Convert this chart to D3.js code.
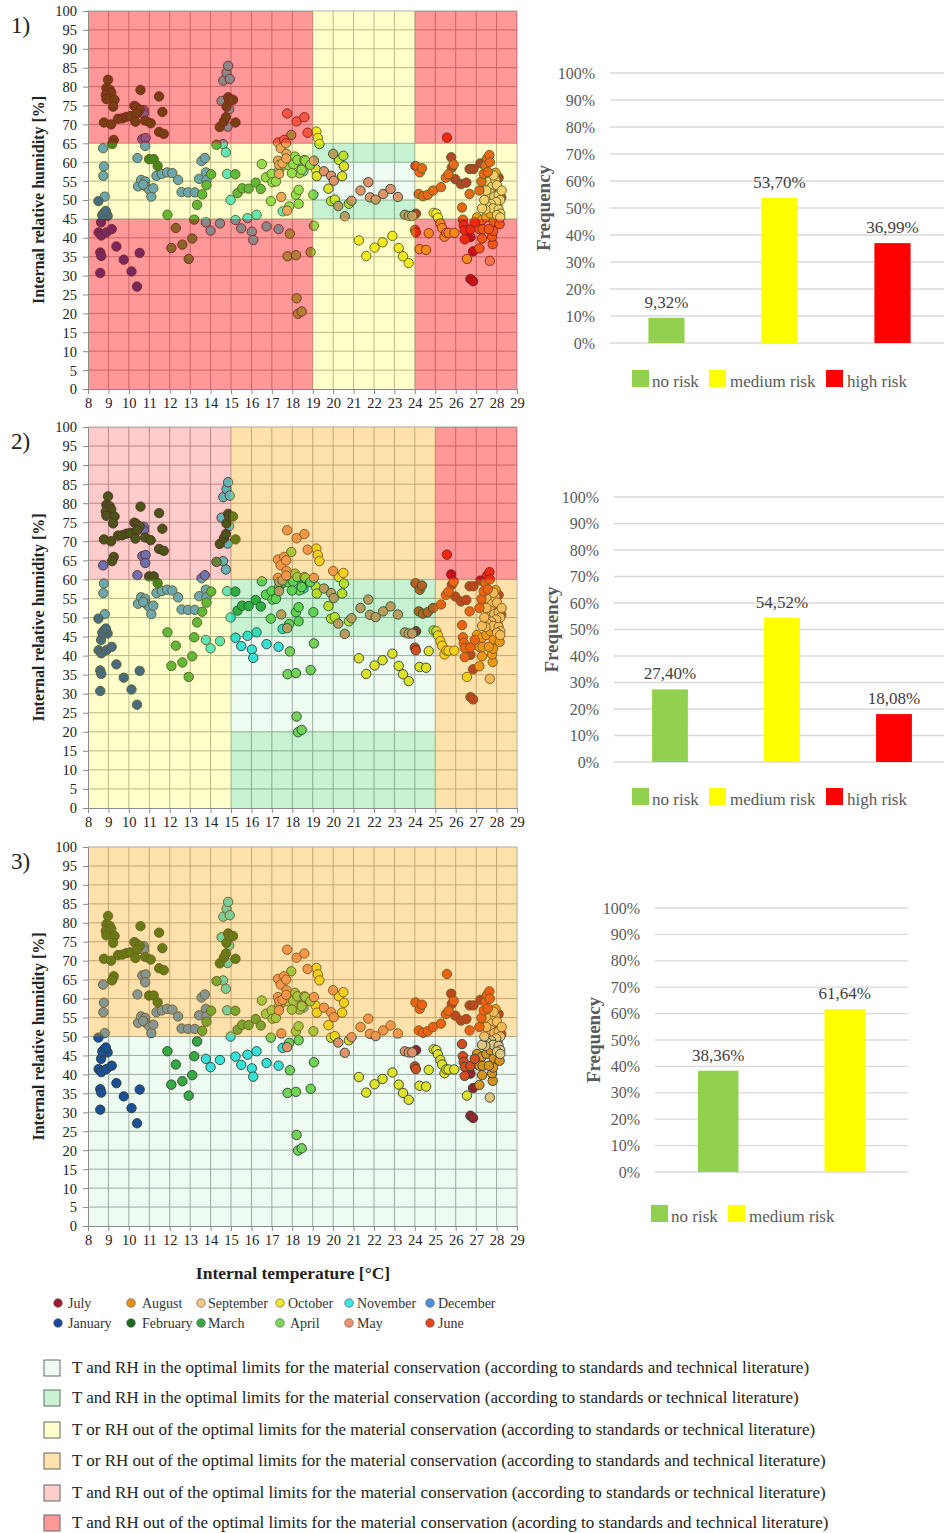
<!DOCTYPE html>
<html>
<head>
<meta charset="utf-8">
<script src="https://cdn.jsdelivr.net/npm/d3@7"></script>
<style>
  body { margin: 0; background: #fff; }
  svg { display: block; }
</style>
</head>
<body>
<svg id="chart" width="944" height="1533"></svg>
<script>
// ---- Monthly T / RH readings: [temperature °C, relative humidity %] ----
const julyPts = [[26.72,29.1],[26.85,28.5],[26.85,36.4],[26.72,40.2],[25.78,61.3],[25.81,58.6],[25.98,55.5],[26.26,54.2],[26.52,54.6],[26.68,58.2],[26.87,58.2],[27.21,59.7],[28.1,55.9],[28.02,52.8],[28.23,50.7],[24.06,46.4]];
const augustPts = [[27.16,37.2],[27.29,39.8],[27.16,42.3],[27.32,42.3],[27.04,45.4],[27.29,44.7],[27.5,45.4],[27.81,38.3],[27.78,40.3],[27.83,41.8],[27.86,44.3],[28.15,43.6],[27.62,42.3],[27.7,46.4],[28.05,48.2],[27.55,53.5],[27.95,57.2]];
const septemberPts = [[27.62,54.8],[27.78,53.5],[27.94,55.3],[28.02,53.9],[27.7,51.8],[27.89,50.9],[28.1,51.3],[28.18,50],[27.98,49.5],[27.73,48.9],[27.54,48.4],[27.83,47.8],[28.1,47.5],[28.18,46.4],[28.02,46],[27.45,47.5],[27.29,47.8],[27.4,50],[28.18,45.4],[27.67,33.9],[27.5,52.5],[28.25,52.5],[27.85,56.5]];
const octoberPts = [[19.18,68.1],[19.25,66.4],[19.33,64.8],[19.15,58.1],[19.2,56.3],[20.28,60.6],[20.5,61.7],[20.53,58.9],[20.44,56.3],[19.77,53],[19.9,49.7],[20.08,50.1],[20.77,49],[21.26,39.3],[21.62,35.2],[22.03,37.4],[22.42,38.8],[22.9,40.5],[23.21,37.3],[23.42,35.1],[23.7,33.3],[24.23,37],[24.55,36.8],[24.68,41.2],[24.92,46.6],[25.05,46.4],[25.13,45.3],[25.25,43.8],[25.33,42.6],[25.45,40.3],[25.54,41.3],[25.65,41.3],[25.93,41.3],[26.55,34.4]];
const novemberPts = [[13.77,44.1],[14,41.9],[14.46,43.8],[14.98,50],[15.22,44.7],[15.5,42.5],[15.81,45.2],[16.02,41.6],[16.09,39.4],[16.25,46.1],[16.74,43],[17.33,42.3],[17.53,47],[14.61,64.8],[14.75,62.6],[14.81,56.9],[14.54,76.2],[14.62,81.6],[14.78,83.7],[14.86,85.5],[14.94,82],[14.91,74],[14.83,69.4],[18.5,58.4],[18.55,57.6]];
const decemberPts = [[8.74,63.7],[8.78,58.9],[8.75,56.4],[8.82,50.9],[10.73,73.8],[10.73,72.8],[10.66,66.1],[10.82,66.4],[10.8,64.3],[10.42,61.1],[10.45,53.6],[10.6,55.3],[10.8,54.9],[10.84,53.6],[11.0,52.7],[11.1,50.9],[11.2,53.1],[10.7,54.1],[11.35,56.4],[11.61,56.9],[11.87,57.3],[12.13,57.1],[12.41,55.3],[12.58,52.1],[12.9,52],[13.23,52],[13.44,55.6],[13.56,60.3],[13.72,61.1],[13.77,57.3],[13.8,55.3]];
const januaryPts = [[8.51,49.7],[8.52,41.4],[8.64,44.1],[8.65,40.6],[8.6,36.1],[8.65,35.2],[8.6,30.7],[8.9,41.4],[9.16,42.3],[9.39,37.7],[9.75,34.2],[10.13,31.1],[10.4,27.1],[10.53,36],[8.77,46.5],[8.9,46.3],[8.96,45.8],[8.7,46],[8.87,47.1]];
const februaryPts = [[8.98,81.8],[8.9,79.6],[9.06,79.2],[9.14,78.4],[8.87,77.8],[8.9,76.7],[9.3,76.5],[9.23,74.7],[8.78,70.5],[9.13,70],[9.26,65.9],[9.18,64.8],[9.47,71.5],[9.68,71.6],[9.88,72],[10.07,72.2],[10.27,74.9],[10.37,74.5],[10.53,73.9],[10.4,72.9],[10.32,70.7],[10.57,79.1],[10.8,71],[11.07,70.3],[11.48,77.4],[11.64,73.3],[11.48,68],[11.71,67.5],[10.99,60.8],[11.22,60.8],[11.41,59],[14.45,69.3],[14.65,70.8],[14.75,71.9],[14.78,74.7],[14.86,77.2],[14.91,76.5],[15.1,76.5],[15.22,70.5]];
const marchPts = [[14.29,64.6],[11.89,46.1],[12.08,37.3],[12.3,42.6],[12.62,38.2],[12.93,34.4],[13.1,39.8],[13.2,44.8],[13.34,48.7],[13.59,51.5],[13.8,53.9],[14.03,56.8],[15.21,56.8],[15.32,51.8],[15.55,53.1],[15.86,53],[16.21,54.6],[16.46,52.9]];
const aprilPts = [[16.51,59.5],[16.71,56],[16.99,56.9],[17.03,54.7],[17.2,54.9],[16.95,49.7],[17.36,58],[17.57,59.2],[17.82,59.2],[18.05,59.4],[18.13,61.5],[18.25,60.6],[18.35,57.1],[18.46,58],[18.59,60.6],[18.83,59.7],[17.98,57.1],[18.18,51.4],[18.31,52.7],[18.31,49],[17.85,48.3],[17.88,41.1],[17.77,35.1],[18.18,35.4],[18.9,36.2],[18.21,24],[18.28,19.9],[18.46,20.5],[19.03,51.4],[19.06,43.2],[18.64,60.4],[18.88,59.3],[17.95,67.2]];
const mayPts = [[17.3,65.2],[17.43,63.7],[17.6,65.9],[17.7,65],[17.72,62.2],[17.3,60.4],[17.36,59.3],[17.52,59.7],[17.7,61],[17.35,56.9],[17.46,50.8],[17.75,47.2],[17.75,72.9],[18.21,70.8],[18.59,71.9],[18.75,67.8],[19.06,60.4],[19.55,57.6],[20,62.2],[19.9,56.4],[20.03,55.1],[20.25,48.4],[20.57,45.7],[20.9,49.8],[21.34,52.5],[21.72,54.7],[21.8,50.7],[22.08,50.1],[22.45,51.6],[22.81,52.9],[23.17,50.8],[23.51,46.1],[23.7,45.8],[23.87,45.8]];
const junePts = [[24.0,42.1],[24.05,41.4],[24.03,59],[24.24,57.3],[24.35,58.4],[24.19,51.6],[24.4,51],[24.63,51.4],[24.89,52.5],[25.28,53.4],[25.52,55.9],[25.57,66.5],[25.65,56.8],[25.9,59.4],[26.68,51.6],[26.35,44.8],[26.39,43.3],[26.44,42],[26.72,42.2],[26.93,44.1],[26.44,39.6],[27.16,52.5],[27.26,54.9],[27.37,56.9],[27.45,59.1],[27.54,61],[27.65,61.9],[27.67,60],[27.57,57.4],[26.31,48]];

// Legend order of the months and their marker colours
const months = ["July","August","September","October","November","December","January","February","March","April","May","June"];
const monthColors = ["#9e1a2e","#e8901e","#f2c585","#efe52a","#3de3e3","#4a90dc","#1c47a0","#1d6b1f","#3aa843","#7ad65a","#f0906c","#e4441c"];
const monthPoints = [julyPts, augustPts, septemberPts, octoberPts, novemberPts, decemberPts, januaryPts, februaryPts, marchPts, aprilPts, mayPts, junePts];

// Axis ticks
const tempTicks = d3.range(8, 30);
const rhTicks = d3.range(0, 101, 5);
const pctTicks = d3.range(0, 101, 10);

// Conservation zones: [T from, T to, RH from, RH to, class]
// class 0 optimal (standards and literature) ... 5 out of limits (standards and literature)
const zoneBase = ["rgb(0,200,50)","rgb(0,200,50)","rgb(255,255,0)","rgb(255,165,0)","rgb(255,0,0)","rgb(255,0,0)"];
const zoneAlpha = [0.07, 0.22, 0.2, 0.33, 0.2, 0.4];
const zonesStandard1 = [[8,19,0,45,5],[8,19,65,100,5],[8,19,45,65,2],[19,24,0,45,2],[19,24,65,100,2],[19,24,45,50,1],[19,24,60,65,1],[19,24,50,60,0],[24,29,0,45,5],[24,29,65,100,5],[24,29,45,65,2]];
const zonesStandard2 = [[8,15,60,100,4],[8,15,0,60,2],[15,25,60,100,3],[15,25,45,60,1],[15,25,20,45,0],[15,25,0,20,1],[25,29,60,100,5],[25,29,0,60,3]];
const zonesStandard3 = [[8,29,50,100,3],[8,29,0,50,0]];

const zoneLegendTexts = [
  "T and RH in the optimal limits for the material conservation (according to standards and technical literature)",
  "T and RH in the optimal limits for the material conservation (according to standards or technical literature)",
  "T or RH out of the optimal limits for the material conservation (according to standards or technical literature)",
  "T or RH out of the optimal limits for the material conservation (according to standards and technical literature)",
  "T and RH out of the optimal limits for the material conservation (according to standards or technical literature)",
  "T and RH out of the optimal limits for the material conservation (acording to standards and technical literature)"
];

// Risk frequencies (%)
const riskLabels = ["no risk","medium risk","high risk"];
const riskColors = ["#92d050","#ffff00","#ff0000"];
const risk1 = [9.32, 53.70, 36.99];
const risk2 = [27.40, 54.52, 18.08];
const risk3 = [38.36, 61.64];

const SERIF = "'Liberation Serif', 'Times New Roman', serif";
const svg = d3.select("#chart");

function scatterPanel(top, bottom, zones, tag) {
  const x = d3.scaleLinear().domain([8, 29]).range([88, 517]);
  const y = d3.scaleLinear().domain([0, 100]).range([bottom, top]);
  const g = svg.append("g");

  g.append("rect").attr("x", x(8)).attr("y", y(100))
    .attr("width", x(29) - x(8)).attr("height", y(0) - y(100)).attr("fill", "#fff");

  // grid
  g.append("g").selectAll("line").data(tempTicks.slice(1)).join("line")
    .attr("x1", d => x(d)).attr("x2", d => x(d)).attr("y1", y(0)).attr("y2", y(100))
    .attr("stroke", "#a8a8a8").attr("stroke-width", 1);
  g.append("g").selectAll("line").data(rhTicks.slice(1)).join("line")
    .attr("x1", x(8)).attr("x2", x(29)).attr("y1", d => y(d)).attr("y2", d => y(d))
    .attr("stroke", "#a8a8a8").attr("stroke-width", 1);

  // readings
  monthPoints.forEach((pts, m) => {
    g.append("g").selectAll("circle").data(pts).join("circle")
      .attr("cx", d => x(d[0])).attr("cy", d => y(d[1])).attr("r", 4.7)
      .attr("fill", monthColors[m]).attr("stroke", "#333").attr("stroke-width", 0.9);
  });

  // translucent conservation zones laid over the readings
  g.append("g").selectAll("rect").data(zones).join("rect")
    .attr("x", d => x(d[0])).attr("width", d => x(d[1]) - x(d[0]))
    .attr("y", d => y(d[3])).attr("height", d => y(d[2]) - y(d[3]))
    .attr("fill", d => zoneBase[d[4]]).attr("fill-opacity", d => zoneAlpha[d[4]]);

  // axes
  const ax = g.append("g").attr("transform", `translate(0,${y(0)})`)
    .call(d3.axisBottom(x).tickValues(tempTicks).tickSize(5).tickPadding(4).tickFormat(d3.format("d")));
  const ay = g.append("g").attr("transform", `translate(${x(8)},0)`)
    .call(d3.axisLeft(y).tickValues(rhTicks).tickSize(5).tickPadding(6).tickFormat(d3.format("d")));
  [ax, ay].forEach(a => {
    a.select(".domain").attr("stroke", "#8c8c8c");
    a.selectAll(".tick line").attr("stroke", "#8c8c8c");
    a.selectAll("text").attr("font-family", SERIF).attr("font-size", 14.5).attr("fill", "#222");
  });
  ay.selectAll("text").attr("dy", "0.34em");

  g.append("text").attr("transform", `translate(44,${(top + bottom) / 2}) rotate(-90)`)
    .attr("text-anchor", "middle").attr("font-family", SERIF).attr("font-weight", "bold")
    .attr("font-size", 16).attr("fill", "#222").text("Internal relative humidity [%]");

  g.append("text").attr("x", 11).attr("y", top + 22).attr("font-family", SERIF)
    .attr("font-size", 23).attr("fill", "#222").text(tag);
}

function barPanel(vals, cfg) {
  const cats = riskLabels.slice(0, vals.length);
  const x = d3.scaleBand().domain(cats).range(cfg.xr);
  const y = d3.scaleLinear().domain([0, 100]).range([cfg.y0, cfg.y100]);
  const g = svg.append("g");
  g.append("g").selectAll("line").data(pctTicks).join("line")
    .attr("x1", cfg.xr[0]).attr("x2", cfg.xr[1]).attr("y1", d => y(d)).attr("y2", d => y(d))
    .attr("stroke", "#d9d9d9").attr("stroke-width", 1.3);
  g.append("g").selectAll("text").data(pctTicks).join("text")
    .attr("x", cfg.tickRight).attr("y", d => y(d)).attr("dy", "0.35em").attr("text-anchor", "end")
    .attr("font-family", SERIF).attr("font-size", 16).attr("fill", "#595959").text(d => d + "%");
  const bw = x.bandwidth() * 0.32;
  g.append("g").selectAll("rect").data(vals).join("rect")
    .attr("x", (d, i) => x(cats[i]) + x.bandwidth() / 2 - bw / 2).attr("width", bw)
    .attr("y", d => y(d)).attr("height", d => y(0) - y(d))
    .attr("fill", (d, i) => riskColors[i]);
  const fmt = d => d3.format(".2f")(d).replace(".", ",") + "%";
  g.append("g").selectAll("text").data(vals).join("text")
    .attr("x", (d, i) => x(cats[i]) + x.bandwidth() / 2).attr("y", d => y(d) - 10)
    .attr("text-anchor", "middle").attr("font-family", SERIF).attr("font-size", 17)
    .attr("fill", "#404040").text(fmt);
  g.append("text").attr("transform", `translate(${cfg.freqX},${(cfg.y0 + cfg.y100) / 2}) rotate(-90)`)
    .attr("text-anchor", "middle").attr("dy", "0.35em").attr("font-family", SERIF)
    .attr("font-weight", "bold").attr("font-size", 19).attr("fill", "#595959").text("Frequency");
  cats.forEach((c, i) => {
    g.append("rect").attr("x", cfg.legSq[i]).attr("y", cfg.legTop).attr("width", 17).attr("height", 17)
      .attr("fill", riskColors[i]);
    g.append("text").attr("x", cfg.legTx[i]).attr("y", cfg.legTop + 17).attr("font-family", SERIF)
      .attr("font-size", 17).attr("fill", "#595959").text(c);
  });
}

scatterPanel(11, 389, zonesStandard1, "1)");
scatterPanel(427, 808, zonesStandard2, "2)");
scatterPanel(847, 1226, zonesStandard3, "3)");

barPanel(risk1, {xr: [610, 949], y0: 343, y100: 73, tickRight: 595, freqX: 543, legTop: 370, legSq: [632, 709, 826], legTx: [652, 730, 847]});
barPanel(risk2, {xr: [614, 950], y0: 762, y100: 497, tickRight: 599, freqX: 551, legTop: 788, legSq: [632, 709, 826], legTx: [652, 730, 847]});
barPanel(risk3, {xr: [655, 908], y0: 1172, y100: 908, tickRight: 640, freqX: 593, legTop: 1205, legSq: [651, 728], legTx: [671, 749]});

// x axis title
svg.append("text").attr("x", 293).attr("y", 1279).attr("text-anchor", "middle")
  .attr("font-family", SERIF).attr("font-weight", "bold").attr("font-size", 17.5).attr("fill", "#222")
  .text("Internal temperature [°C]");

// month legend (two rows of six)
const monthLegX = [[58, 68], [131, 142], [201, 208], [280, 288], [349, 357], [430, 438]];
const monthLegRowY = [1303, 1323];
months.forEach((m, i) => {
  const row = Math.floor(i / 6), col = i % 6;
  const cy = monthLegRowY[row];
  svg.append("circle").attr("cx", monthLegX[col][0]).attr("cy", cy).attr("r", 4.3)
    .attr("fill", monthColors[i]).attr("stroke", "#555").attr("stroke-width", 0.6);
  svg.append("text").attr("x", monthLegX[col][1] + (row === 1 && col === 3 ? 2 : 0))
    .attr("y", cy + 5).attr("font-family", SERIF).attr("font-size", 14).attr("fill", "#333").text(m);
});

// zone legend
const zoneLegY = [1368, 1398, 1430, 1461, 1493, 1523];
zoneLegendTexts.forEach((t, i) => {
  const c = d3.color(zoneBase[i]);
  const a = zoneAlpha[i];
  const fill = d3.rgb(255 * (1 - a) + c.r * a, 255 * (1 - a) + c.g * a, 255 * (1 - a) + c.b * a);
  svg.append("rect").attr("x", 44).attr("y", zoneLegY[i] - 8).attr("width", 16).attr("height", 16)
    .attr("fill", fill).attr("stroke", "#666").attr("stroke-width", 1);
  svg.append("text").attr("x", 72).attr("y", zoneLegY[i] + 5).attr("font-family", SERIF)
    .attr("font-size", 17).attr("fill", "#222").text(t);
});
</script>
</body>
</html>
